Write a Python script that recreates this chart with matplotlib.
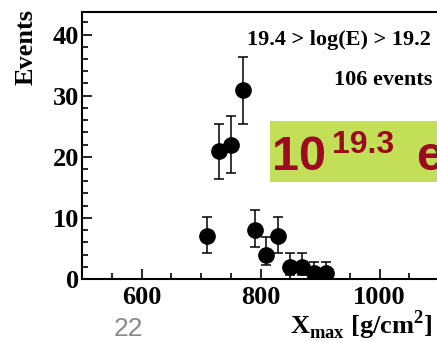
import matplotlib
matplotlib.use("Agg")
import matplotlib.pyplot as plt
import numpy as np
from matplotlib.ticker import MultipleLocator

# Xmax distribution, 19.2 < log(E) < 19.4
xmax = [710, 730, 750, 770, 790, 810, 830, 850, 870, 890, 910]
events = [7, 21, 22, 31, 8, 4, 7, 2, 2, 1, 1]
err_hi = [10.1, 25.4, 26.6, 36.3, 11.3, 6.8, 10.1, 4.3, 4.3, 2.8, 2.8]
err_lo = [4.3, 16.3, 17.3, 25.4, 5.2, 2.3, 4.3, 0.7, 0.7, 0.2, 0.2]

x_ticks = [600, 800, 1000]
y_ticks = [0, 10, 20, 30, 40]

plt.rcParams['font.family'] = 'Liberation Serif'
plt.rcParams['font.weight'] = 'bold'
plt.rcParams['mathtext.fontset'] = 'custom'
plt.rcParams['mathtext.rm'] = 'Liberation Serif:bold'
plt.rcParams['mathtext.bf'] = 'Liberation Serif:bold'

W, H = 437, 342
fig = plt.figure(figsize=(W / 100, H / 100), dpi=100)

# axes run past the right edge of the picture (cropped slide)
x_lo, x_hi = 500, 1200
px_per_unit = 0.595
left, right_px = 82, 82 + (x_hi - x_lo) * px_per_unit
ax = fig.add_axes([left / W, (H - 279) / H, (right_px - left) / W, (279 - 12) / H])

yerr = [np.array(events) - np.array(err_lo), np.array(err_hi) - np.array(events)]
ax.errorbar(xmax, events, yerr=yerr, fmt='o', color='black', markersize=11,
            elinewidth=1.1, capsize=3.5, capthick=1.1)

ax.set_xlim(x_lo, x_hi)
ax.set_ylim(0, 43.7)
ax.set_xticks(x_ticks)
ax.set_yticks(y_ticks)
ax.xaxis.set_minor_locator(MultipleLocator(50))
ax.yaxis.set_minor_locator(MultipleLocator(2))
ax.tick_params(which='both', direction='in', width=1.2, labelsize=19)
ax.tick_params(which='major', length=7)
ax.tick_params(which='minor', length=4.5)
ax.tick_params(axis='x', pad=5)
ax.tick_params(axis='y', pad=2)
for lab in ax.get_xticklabels() + ax.get_yticklabels():
    lab.set_fontweight('bold')
for s in ax.spines.values():
    s.set_linewidth(1.5)

def fx(px):
    return px / W

def fy(py):
    return 1 - py / H

fig.text(fx(26), fy(47), 'Events', rotation=90, ha='center', va='center',
         fontsize=19, fontweight='bold')
fig.text(fx(433), fy(325), r'X$_{\rm max}$ [g/cm$^{2}$]', ha='right', va='center',
         fontsize=19, fontweight='bold')
fig.text(fx(431), fy(40), '19.4 > log(E) > 19.2', ha='right', va='center',
         fontsize=16, fontweight='bold')
fig.text(fx(432), fy(80), '106 events', ha='right', va='center',
         fontsize=16, fontweight='bold')
fig.text(fx(128), fy(329), '22', ha='center', va='center', fontsize=19,
         color='#8a8a8a', family='Liberation Sans', fontweight='normal')

# green label box with red energy text (cropped at the right edge, as in the slide)
box = plt.Rectangle((fx(270), fy(182)), fx(437) - fx(270), fy(121) - fy(182),
                    transform=fig.transFigure, facecolor='#c3df58', edgecolor='none',
                    zorder=5)
fig.add_artist(box)
red = '#9b0a1e'
red_font = dict(color=red, family='Liberation Sans', fontweight='bold', zorder=6,
                ha='left', va='baseline')
fig.text(fx(272), fy(170), '10', fontsize=35, **red_font)
fig.text(fx(332), fy(153), '19.3', fontsize=23, **red_font)
fig.text(fx(416), fy(170), 'e', fontsize=35, **red_font)

fig.savefig('out.png', dpi=100)
